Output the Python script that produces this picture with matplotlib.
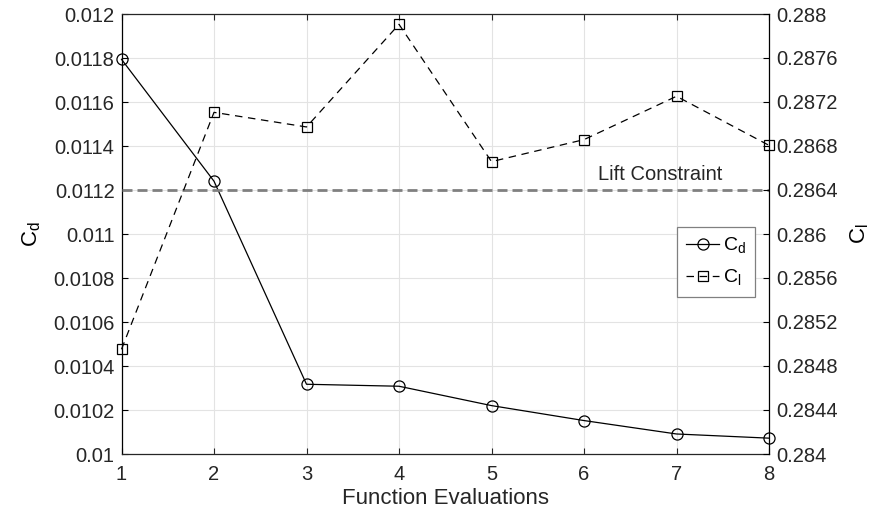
import numpy as np
import matplotlib
matplotlib.use("Agg")
import matplotlib.pyplot as plt

# values
evals = [1, 2, 3, 4, 5, 6, 7, 8]
cd = [0.011794, 0.011240, 0.010317, 0.010308, 0.010220, 0.010152, 0.010091, 0.010072]
cl = [0.284952, 0.287106, 0.286973, 0.287906, 0.286658, 0.286858, 0.287252, 0.286806]
lift_constraint = 0.2864

cd_ticks = [0.01, 0.0102, 0.0104, 0.0106, 0.0108, 0.011, 0.0112, 0.0114, 0.0116, 0.0118, 0.012]
cd_labels = ["0.01", "0.0102", "0.0104", "0.0106", "0.0108", "0.011",
             "0.0112", "0.0114", "0.0116", "0.0118", "0.012"]
cl_ticks = [0.284, 0.2844, 0.2848, 0.2852, 0.2856, 0.286, 0.2864, 0.2868, 0.2872, 0.2876, 0.288]
cl_labels = ["0.284", "0.2844", "0.2848", "0.2852", "0.2856", "0.286",
             "0.2864", "0.2868", "0.2872", "0.2876", "0.288"]

plt.rcParams["font.family"] = ["Liberation Sans", "DejaVu Sans"]
plt.rcParams["mathtext.fontset"] = "custom"
plt.rcParams["mathtext.rm"] = "Liberation Sans"

txt = "#262626"

fig = plt.figure(figsize=(8.76, 5.19), dpi=100)
ax = fig.add_axes([121.5 / 876, 65 / 519, 647.5 / 876, 440 / 519])
ax2 = ax.twinx()

# drag coefficient, left axis
l_cd, = ax.plot(evals, cd, color="black", lw=0.9, marker="o", ms=8,
                mfc="none", mec="black", mew=0.9, clip_on=False, zorder=3)

# lift coefficient and constraint, right axis
ax2.axhline(lift_constraint, color="#808080", lw=2, ls=(0, (3.6, 1.8)), zorder=1)
l_cl, = ax2.plot(evals, cl, color="black", lw=0.9, ls=(0, (6, 4.5)), marker="s", ms=6.5,
                 mfc="none", mec="black", mew=0.9, clip_on=False, zorder=3)
ax2.text(6.15, lift_constraint + 0.00005, "Lift Constraint", fontsize=14.5,
         color=txt, ha="left", va="bottom")

ax.set_xlim(1, 8)
ax.set_ylim(0.01, 0.012)
ax2.set_ylim(0.284, 0.288)
ax.set_xticks(evals)
ax.set_yticks(cd_ticks)
ax.set_yticklabels(cd_labels)
ax2.set_yticks(cl_ticks)
ax2.set_yticklabels(cl_labels)

ax.grid(True, color="#e3e3e3", lw=0.8)
ax.set_axisbelow(True)

ax.tick_params(axis="x", direction="in", top=True, length=4, width=0.8,
               labelsize=14.5, colors=txt, pad=8)
ax.tick_params(axis="y", direction="in", length=4, width=0.8,
               labelsize=14.5, colors=txt, pad=5)
ax2.tick_params(axis="y", direction="in", length=4, width=0.8,
                labelsize=14.5, colors=txt, pad=5)
ax.tick_params(axis="y", color="black")
ax2.tick_params(axis="y", color="black")

for s in ["top", "bottom"]:
    ax.spines[s].set_color(txt)
    ax.spines[s].set_linewidth(0.9)
    ax2.spines[s].set_visible(False)
ax.spines["left"].set_color("black")
ax.spines["left"].set_linewidth(0.9)
ax2.spines["right"].set_color("black")
ax2.spines["right"].set_linewidth(0.9)
ax2.spines["left"].set_visible(False)
ax.spines["right"].set_visible(False)

ax.set_xlabel("Function Evaluations", fontsize=16, color=txt, labelpad=3)
ax.set_ylabel(r"C$_\mathregular{d}$", fontsize=16, color="black")
ax.yaxis.set_label_coords(-0.121, 0.5)
ax2.set_ylabel(r"C$_\mathregular{l}$", fontsize=16, color="black")
ax2.yaxis.set_label_coords(1.122, 0.5)

leg = ax2.legend([l_cd, l_cl], [r"C$_\mathregular{d}$", r"C$_\mathregular{l}$"],
                 loc="center right", bbox_to_anchor=(0.978, 0.436), fontsize=14,
                 fancybox=False, framealpha=1, edgecolor="#808080",
                 handlelength=1.7, handletextpad=0.2, borderpad=0.45,
                 labelspacing=0.6, borderaxespad=0)
leg.get_frame().set_linewidth(0.9)

fig.savefig("out.png", dpi=100)
